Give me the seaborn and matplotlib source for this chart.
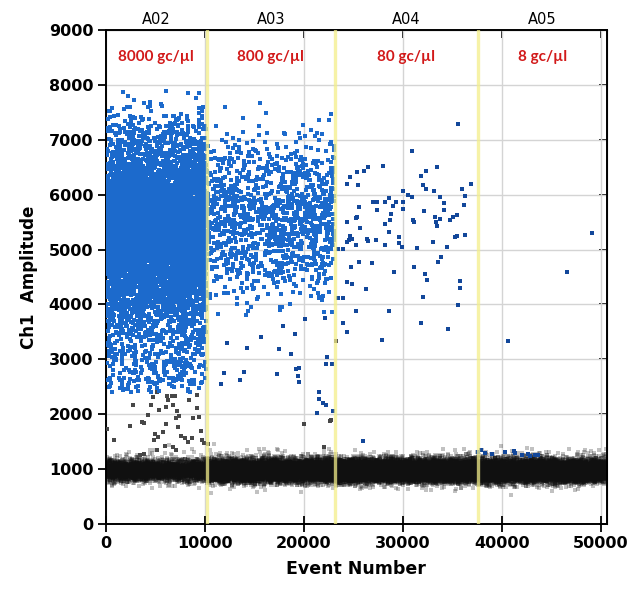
import numpy as np
import pandas as pd
import matplotlib
matplotlib.use("Agg")
import matplotlib.pyplot as plt
import seaborn as sns

# ---------------- data ----------------
wells = ["A02", "A03", "A04", "A05"]
well_edges = [0, 10200, 23150, 37600, 50600]
concentrations = ["8000 gc/µl", "800 gc/µl", "80 gc/µl", "8 gc/µl"]

# negative droplet band (per well): count, centre, spread
neg_counts = [4200, 11700, 14360, 12990]
neg_center = [975, 970, 965, 965]
neg_sd = [90, 90, 90, 90]

# dense positive clouds of A02 and A03 (read as centre / spread / count)
cloud_wells = ["A02", "A03"]
cloud_counts = [6400, 1200]
cloud_center = [5400, 5550]
cloud_sd = [850, 720]
cloud_low = [2400, 3800]
cloud_high = [8050, 7800]
# lower "rain" tail of A02 positives
a02_tail_count = 420
a02_tail_range = [2400, 4300]

# sparse A03 rain points (event, amplitude)
a03_rain_x = [15690, 12280, 14300, 17530, 18720, 19150, 17940, 11950, 11650, 14000,
              13600, 17300, 19220, 19550, 19390, 19520, 21510, 21510, 21980, 22250,
              21370, 22320, 22250, 22830, 20160, 22150, 22930]
a03_rain_y = [3400, 3290, 3210, 3190, 3100, 3455, 3615, 2745, 2550, 2770,
              2625, 2740, 2820, 2835, 2695, 2590, 2410, 2270, 2210, 2170,
              2030, 3050, 2915, 2910, 3735, 3760, 2060]

# A04 positive droplets
a04_x = [35550, 30970, 28040, 26460, 26090, 25350, 24670, 24400, 25450, 32380,
         33430, 31880, 32020, 32320, 33190, 36870, 35960, 36320, 30060, 30500,
         30910, 33760, 27030, 27370, 28210, 28610, 29350, 30030, 29050, 30000,
         25580, 27400, 34200, 34200, 36190, 32120, 28780, 25280, 25410, 24400,
         28210, 28710, 31010, 31140, 33290, 33360, 33430, 33760, 34770, 35050,
         35510, 25720, 28610, 24670, 24840, 24400, 24570, 26360, 26520, 27270,
         29620, 29620, 29900, 28210, 25280, 33090, 34500, 35310, 35450, 36320,
         31470, 24000, 23490, 33870, 33590, 25580, 26900, 24780, 31110, 29120,
         32280, 32420, 24400, 24910, 35780, 35780, 26260, 32020, 24000, 23490,
         35550, 25310, 28580, 24000, 31880, 24400, 34600, 27940, 26020]
a04_y = [7288, 6790, 6530, 6505, 6440, 6410, 6315, 6200, 6175, 6440,
         6505, 6340, 6175, 6105, 6060, 6200, 6105, 5980, 6060, 5990,
         5960, 5960, 5870, 5870, 5870, 5935, 5870, 5870, 5785, 5745,
         5770, 5720, 5845, 5720, 5820, 5695, 5655, 5570, 5590, 5510,
         5460, 5540, 5540, 5510, 5600, 5510, 5430, 5555, 5540, 5600,
         5630, 5400, 5315, 5240, 5200, 5130, 5170, 5200, 5160, 5170,
         5220, 5115, 5040, 5085, 5085, 5130, 5050, 5220, 5250, 5270,
         5035, 5010, 5010, 4870, 4780, 4780, 4750, 4675, 4675, 4585,
         4560, 4445, 4405, 4370, 4420, 4305, 4280, 4140, 4110, 4110,
         3990, 3875, 3875, 3660, 3665, 3500, 3545, 3350, 1520]

# A05 positive droplets
a05_x = [49150, 46560, 40630, 37630, 37900, 38310, 39050, 40330, 41270, 41340,
         42020, 42680, 42860, 43360, 43690]
a05_y = [5300, 4585, 3335, 1317, 1348, 1288, 1275, 1306, 1335, 1288,
         1257, 1275, 1245, 1257, 1257]

# grey intermediate droplets in A02 / A03
grey_x = [160, 870, 2450, 2730, 3640, 3870, 3460, 3870, 4300, 4540,
          4810, 4980, 5310, 4880, 5150, 5210, 5410, 5820, 6060, 6000,
          6060, 6260, 6160, 6670, 7000, 6830, 7170, 7070, 7430, 7330,
          7570, 6770, 7100, 8010, 8340, 8690, 8440, 8790, 9190, 9250,
          9450, 9590, 9730, 9930, 10360, 20060, 22650, 22050, 23260, 22720]
grey_y = [1725, 1530, 1785, 2170, 1865, 1835, 1255, 1275, 1985, 2170,
          2320, 1640, 1590, 1530, 2410, 1350, 2080, 1670, 1820, 1425,
          2125, 2260, 2330, 2330, 2330, 2170, 2050, 1925, 1970, 1770,
          1600, 1405, 1350, 1560, 1500, 1560, 2260, 1925, 2110, 2350,
          1950, 1700, 1530, 1480, 1460, 1815, 1880, 1400, 3335, 1895]

# ---------------- build droplet tables ----------------
rng = np.random.default_rng(7)
neg_frames = []
for i, w in enumerate(wells):
    n = neg_counts[i]
    ev = rng.uniform(well_edges[i], well_edges[i + 1], n)
    amp = rng.normal(neg_center[i], neg_sd[i], n)
    wide = rng.random(n) < 0.06
    amp[wide] = rng.normal(neg_center[i] + 40, 140, wide.sum())
    neg_frames.append(pd.DataFrame({"event": ev, "amplitude": amp, "well": w}))
neg = pd.concat(neg_frames, ignore_index=True)

cloud_frames = []
for i, w in enumerate(cloud_wells):
    j = wells.index(w)
    n = cloud_counts[i]
    ev = rng.uniform(well_edges[j] + 60, well_edges[j + 1] - 60, n)
    amp = rng.normal(cloud_center[i], cloud_sd[i], n)
    keep = (amp > cloud_low[i]) & (amp < cloud_high[i])
    cloud_frames.append(pd.DataFrame({"event": ev[keep], "amplitude": amp[keep], "well": w}))
tail_ev = rng.uniform(200, well_edges[1] - 60, a02_tail_count)
tail_amp = rng.uniform(a02_tail_range[0], a02_tail_range[1], a02_tail_count)
cloud_frames.append(pd.DataFrame({"event": tail_ev, "amplitude": tail_amp, "well": "A02"}))
cloud = pd.concat(cloud_frames, ignore_index=True)

sparse = pd.concat([
    pd.DataFrame({"event": a03_rain_x, "amplitude": a03_rain_y, "well": "A03"}),
    pd.DataFrame({"event": a04_x, "amplitude": a04_y, "well": "A04"}),
    pd.DataFrame({"event": a05_x, "amplitude": a05_y, "well": "A05"}),
], ignore_index=True)

grey = pd.DataFrame({"event": grey_x, "amplitude": grey_y})

# ---------------- plot ----------------
sns.set_style("white")
plt.rcParams["font.family"] = ["DejaVu Sans"]
plt.rcParams["text.color"] = "black"
plt.rcParams["axes.labelcolor"] = "black"
plt.rcParams["xtick.color"] = "black"
plt.rcParams["ytick.color"] = "black"

fig = plt.figure(figsize=(6.3, 5.89), dpi=100)
ax = fig.add_axes([0.1678, 0.1104, 0.7952, 0.8386])

ax.grid(True, color="#d4d4d4", linewidth=1.0, zorder=0)
ax.set_axisbelow(True)

sns.scatterplot(data=neg, x="event", y="amplitude", ax=ax, marker="s", s=6,
                linewidth=0, color="#101010", alpha=0.26, zorder=2, legend=False,
                rasterized=True)
sns.scatterplot(data=grey, x="event", y="amplitude", ax=ax, marker="s", s=7,
                linewidth=0, color="#474747", zorder=3, legend=False)
sns.scatterplot(data=cloud, x="event", y="amplitude", ax=ax, marker="s", s=7,
                linewidth=0, color="#1c6acc", zorder=4, legend=False)
sns.scatterplot(data=sparse, x="event", y="amplitude", ax=ax, marker="s", s=7,
                linewidth=0, color="#12479a", zorder=4, legend=False)

for xb in well_edges[1:-1]:
    ax.axvline(xb, color="#f3ee8a", linewidth=2.4, alpha=0.75, zorder=5)

ax.set_xlim(0, 50600)
ax.set_ylim(0, 9000)
ax.set_xticks(range(0, 50001, 10000))
ax.set_yticks(range(0, 9001, 1000))

for sp in ax.spines.values():
    sp.set_visible(True)
    sp.set_color("black")
    sp.set_linewidth(1.4)

ax.tick_params(axis="y", which="both", left=True, right=False, direction="out",
               length=6, width=1.3, labelsize=11.5, pad=3)
ax.tick_params(axis="x", which="both", bottom=True, top=False, direction="inout",
               length=12, width=1.3, labelsize=11.5, pad=3)
for lab in ax.get_xticklabels() + ax.get_yticklabels():
    lab.set_fontweight("bold")

sec_x = ax.secondary_xaxis("top")
sec_x.set_xticks(range(0, 50001, 10000))
sec_x.tick_params(direction="in", length=6, width=1.3, labeltop=False)
sec_y = ax.secondary_yaxis("right")
sec_y.set_yticks(range(0, 9001, 1000))
sec_y.tick_params(direction="in", length=6, width=1.3, labelright=False)

ax.set_xlabel("Event Number", fontsize=12.5, fontweight="bold", labelpad=6)
ax.set_ylabel("Ch1  Amplitude", fontsize=12, labelpad=8, fontweight="semibold")

for i, w in enumerate(wells):
    cx = 0.5 * (well_edges[i] + well_edges[i + 1])
    ax.text(cx, 9060, w, ha="center", va="bottom", fontsize=10.5, color="black")
    ax.text(cx, 8500, concentrations[i], ha="center", va="center", fontsize=11,
            fontweight="bold", color="#d21a1a", family=["Lato", "DejaVu Sans"],
            zorder=6)

fig.savefig("out.png", dpi=100)
